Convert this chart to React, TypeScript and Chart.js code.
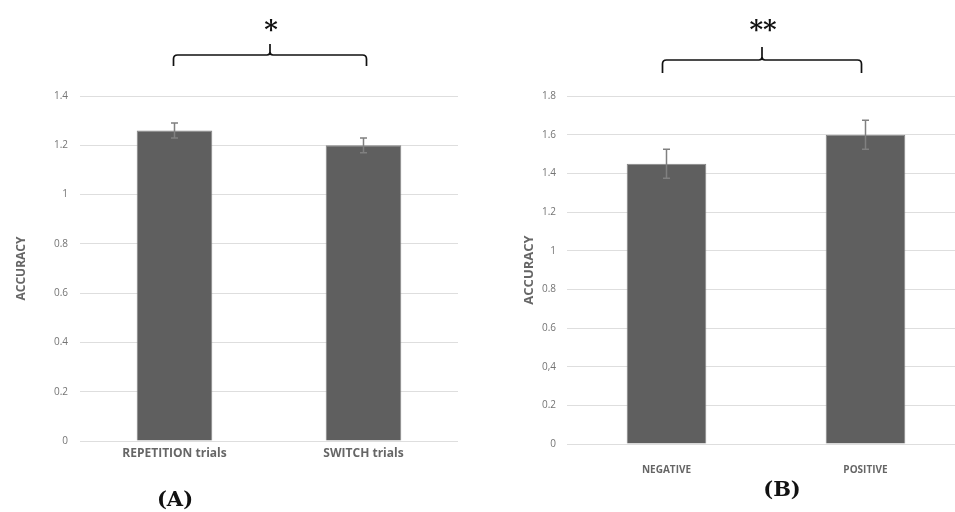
import React, { useEffect, useRef } from "react";
import { Chart, registerables } from "chart.js";

Chart.register(...registerables);

// ---------- Data ----------
const categoriesA = ["REPETITION trials", "SWITCH trials"];
const valuesA = [1.26, 1.2];
const errorsA = [0.03, 0.03];
const tickLabelsA = ["0", "0.2", "0.4", "0.6", "0.8", "1", "1.2", "1.4"];
const signifA = "*";
const panelA = "(A)";

const categoriesB = ["NEGATIVE", "POSITIVE"];
const valuesB = [1.45, 1.6];
const errorsB = [0.075, 0.075];
const tickLabelsB = ["0", "0.2", "0,4", "0.6", "0.8", "1", "1.2", "1.4", "1.6", "1.8"];
const signifB = "**";
const panelB = "(B)";

const yTitle = "ACCURACY";

// ---------- Styling ----------
const BAR = "#5f5f5f";
const BAR_BORDER = "#858585";
const GRID = "#dedede";
const TEXT = "#666666";
const TICK = "#747474";
const FONT = "'Open Sans', 'Liberation Sans', sans-serif";

type Deco = {
  errors: number[];
  values: number[];
  braceDx: [number, number];
  braceTop: number;
  braceEnd: number;
  braceTip: number;
  braceTipDx: number;
  stars: string;
  starY: number;
  panel: string;
  panelX: number;
  panelY: number;
};

function drawBrace(ctx: CanvasRenderingContext2D, x1: number, x2: number, xm: number, yTop: number, yEnd: number, yTip: number) {
  const r = 4;
  const t = 3;
  ctx.beginPath();
  ctx.moveTo(x1, yEnd);
  ctx.lineTo(x1, yTop + r);
  ctx.quadraticCurveTo(x1, yTop, x1 + r, yTop);
  ctx.lineTo(xm - t, yTop);
  ctx.quadraticCurveTo(xm, yTop, xm, yTop - t);
  ctx.lineTo(xm, yTip);
  ctx.moveTo(xm, yTop - t);
  ctx.quadraticCurveTo(xm, yTop, xm + t, yTop);
  ctx.lineTo(x2 - r, yTop);
  ctx.quadraticCurveTo(x2, yTop, x2, yTop + r);
  ctx.lineTo(x2, yEnd);
  ctx.stroke();
}

const decoPlugin = {
  id: "deco",
  afterDatasetsDraw(chart: any) {
    const d: Deco = chart.options.plugins.deco;
    if (!d) return;
    const ctx: CanvasRenderingContext2D = chart.ctx;
    const meta = chart.getDatasetMeta(0);
    const ys = chart.scales.y;
    ctx.save();
    // error bars
    ctx.strokeStyle = "#808080";
    ctx.lineWidth = 1.5;
    meta.data.forEach((bar: any, i: number) => {
      const v = d.values[i];
      const e = d.errors[i];
      const yt = ys.getPixelForValue(v + e);
      const yb = ys.getPixelForValue(v - e);
      const x = bar.x;
      ctx.beginPath();
      ctx.moveTo(x, yt);
      ctx.lineTo(x, yb);
      ctx.moveTo(x - 3.5, yt);
      ctx.lineTo(x + 3.5, yt);
      ctx.moveTo(x - 3.5, yb);
      ctx.lineTo(x + 3.5, yb);
      ctx.stroke();
    });
    // brace
    const b0 = meta.data[0].x + d.braceDx[0];
    const b1 = meta.data[meta.data.length - 1].x + d.braceDx[1];
    const xm = (b0 + b1) / 2 + d.braceTipDx;
    ctx.strokeStyle = "#111";
    ctx.lineWidth = 1.7;
    drawBrace(ctx, b0, b1, xm, d.braceTop, d.braceEnd, d.braceTip);
    // stars
    ctx.fillStyle = "#111";
    ctx.font = "bold 26px 'DejaVu Serif', serif";
    ctx.textAlign = "center";
    ctx.textBaseline = "alphabetic";
    const m = ctx.measureText(d.stars);
    const sy = d.starY - (m.actualBoundingBoxDescent - m.actualBoundingBoxAscent) / 2;
    ctx.fillText(d.stars, xm + 1, sy);
    // panel label
    ctx.font = "bold 21px 'DejaVu Serif', 'Liberation Serif', serif";
    ctx.textBaseline = "middle";
    ctx.fillText(d.panel, d.panelX, d.panelY);
    ctx.restore();
  },
};

function makeConfig(opts: {
  categories: string[];
  values: number[];
  max: number;
  tickLabels: string[];
  yWidth: number;
  xHeight: number;
  padTop: number;
  padRight: number;
  tickPadY: number;
  tickPadX: number;
  xFont: number;
  titleFont: number;
  titlePad: number;
  deco: Deco;
}) {
  return {
    type: "bar" as const,
    data: {
      labels: opts.categories,
      datasets: [
        {
          data: opts.values,
          backgroundColor: BAR,
          borderColor: BAR_BORDER,
          borderWidth: 1,
          barPercentage: 0.4,
          categoryPercentage: 1.0,
        },
      ],
    },
    options: {
      responsive: false,
      animation: false as const,
      devicePixelRatio: 1,
      layout: { padding: { left: 0, right: opts.padRight, top: opts.padTop, bottom: 0 } },
      plugins: {
        legend: { display: false },
        tooltip: { enabled: false },
        deco: opts.deco,
      },
      scales: {
        x: {
          grid: { display: false, drawTicks: false },
          border: { display: false },
          ticks: {
            color: TEXT,
            padding: opts.tickPadX,
            font: { family: FONT, size: opts.xFont, weight: "bold" as const },
            maxRotation: 0,
          },
          afterFit: (s: any) => {
            s.height = opts.xHeight;
          },
        },
        y: {
          min: 0,
          max: opts.max,
          grid: { color: GRID, lineWidth: 1, drawTicks: false },
          border: { display: false },
          ticks: {
            stepSize: 0.2,
            color: TICK,
            padding: opts.tickPadY,
            font: { family: FONT, size: 10 },
            callback: (_v: any, i: number) => opts.tickLabels[i],
          },
          title: {
            display: true,
            text: yTitle,
            color: TEXT,
            font: { family: FONT, size: opts.titleFont, weight: "bold" as const },
            padding: { top: opts.titlePad, bottom: 0 },
          },
          afterFit: (s: any) => {
            s.width = opts.yWidth;
          },
        },
      },
    },
    plugins: [decoPlugin],
  };
}

function BarPanel({ config, width, left }: { config: any; width: number; left: number }) {
  const ref = useRef<HTMLCanvasElement | null>(null);
  useEffect(() => {
    if (!ref.current) return;
    const chart = new Chart(ref.current, config);
    return () => chart.destroy();
  }, [config]);
  return (
    <canvas
      ref={ref}
      width={width}
      height={512}
      style={{ position: "absolute", left, top: 0, width, height: 512, display: "block" }}
    />
  );
}

const configA = makeConfig({
  categories: categoriesA,
  values: valuesA,
  max: 1.4,
  tickLabels: tickLabelsA,
  yWidth: 80,
  xHeight: 71,
  padTop: 96,
  padRight: 20,
  tickPadY: 12,
  tickPadX: 5,
  xFont: 12,
  titleFont: 12,
  titlePad: 14,
  deco: {
    errors: errorsA,
    values: valuesA,
    braceDx: [-1, 3],
    braceTop: 55,
    braceEnd: 66,
    braceTip: 44,
    braceTipDx: 0,
    stars: signifA,
    starY: 25,
    panel: panelA,
    panelX: 175,
    panelY: 501,
  },
});

const configB = makeConfig({
  categories: categoriesB,
  values: valuesB,
  max: 1.8,
  tickLabels: tickLabelsB,
  yWidth: 89,
  xHeight: 68,
  padTop: 96,
  padRight: 0,
  tickPadY: 11,
  tickPadX: 20,
  xFont: 10,
  titleFont: 13,
  titlePad: 43,
  deco: {
    errors: errorsB,
    values: valuesB,
    braceDx: [-4, -4],
    braceTop: 60,
    braceEnd: 73,
    braceTip: 47,
    braceTipDx: 0,
    stars: signifB,
    starY: 25,
    panel: panelB,
    panelX: 304,
    panelY: 491,
  },
});

export default function App() {
  return (
    <div
      style={{
        position: "fixed",
        left: 0,
        top: 0,
        width: 955,
        height: 512,
        overflow: "hidden",
        background: "#fff",
      }}
    >
      <BarPanel config={configA} width={478} left={0} />
      <BarPanel config={configB} width={487} left={478} />
    </div>
  );
}
